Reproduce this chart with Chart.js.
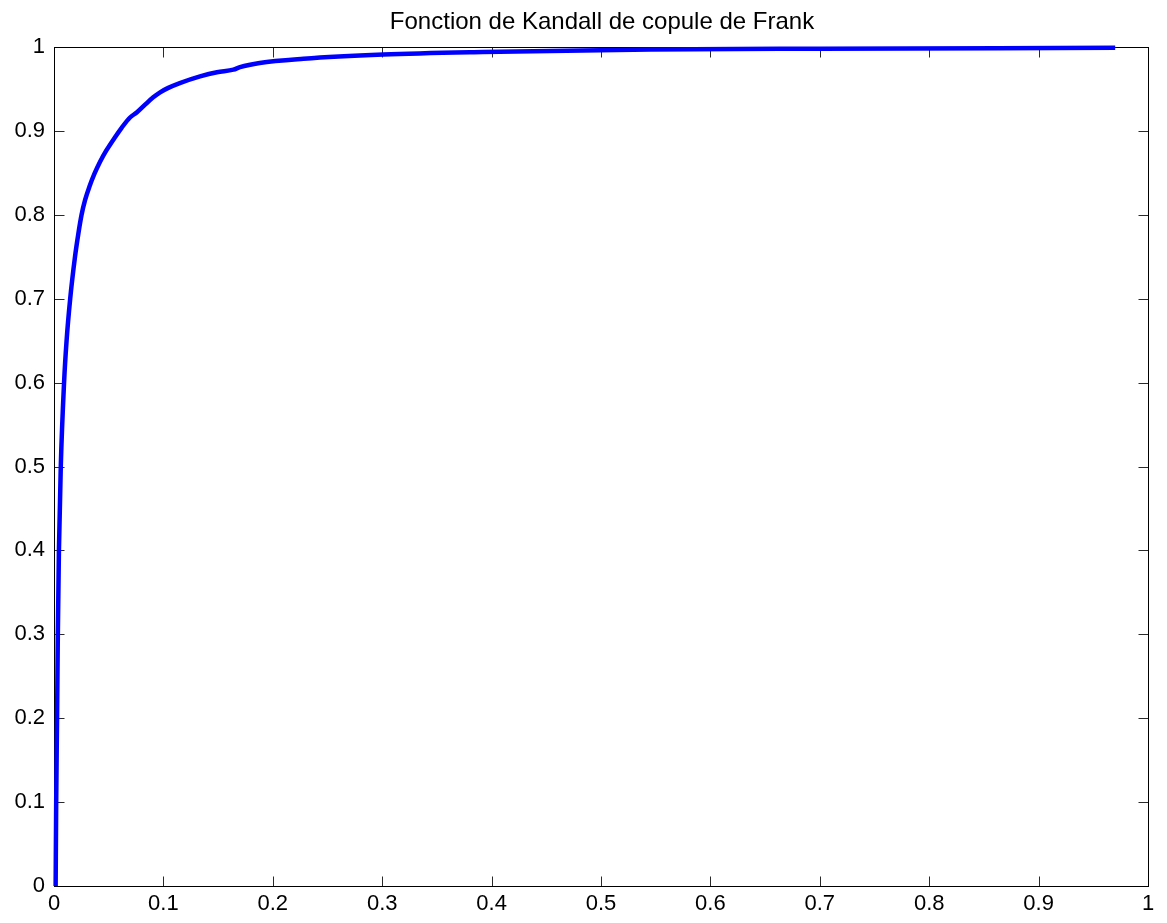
<!DOCTYPE html>
<html>
<head>
<meta charset="utf-8">
<title>Fonction de Kandall de copule de Frank</title>
<script src="https://cdn.jsdelivr.net/npm/chart.js@4/dist/chart.umd.min.js"></script>
<style>
  html, body { margin: 0; padding: 0; background: #fff; }
  #wrap { width: 1167px; height: 923px; }
</style>
</head>
<body>
<div id="wrap"><canvas id="c" width="1167" height="923"></canvas></div>
<script>
// Empirical Kendall function K(t) of the Frank copula
const tValues = [0.0015, 0.002, 0.0028, 0.0035, 0.0045, 0.0062, 0.0092, 0.0115, 0.0148, 0.0192,
                 0.0222, 0.0252, 0.0285, 0.0325, 0.037, 0.042, 0.048, 0.055, 0.062, 0.0695,
                 0.0756, 0.083, 0.0907, 0.097, 0.104, 0.115, 0.1335, 0.149, 0.164, 0.170,
                 0.188, 0.228, 0.301, 0.392, 0.545, 0.70, 0.97];
const kValues = [0, 0.1, 0.2, 0.3, 0.4, 0.5, 0.6, 0.65, 0.7, 0.75,
                 0.777, 0.8, 0.818, 0.834, 0.849, 0.863, 0.877, 0.891, 0.904, 0.916,
                 0.922, 0.931, 0.940, 0.946, 0.951, 0.957, 0.965, 0.970, 0.973, 0.976,
                 0.981, 0.986, 0.991, 0.994, 0.997, 0.998, 0.999];

const tickValues = [0, 0.1, 0.2, 0.3, 0.4, 0.5, 0.6, 0.7, 0.8, 0.9, 1];
const tickLabels = ['0', '0.1', '0.2', '0.3', '0.4', '0.5', '0.6', '0.7', '0.8', '0.9', '1'];
const titleText = 'Fonction de Kandall de copule de Frank';

const points = tValues.map((t, i) => ({ x: t, y: kValues[i] }));

const FONT = '"Liberation Sans", Arial, Helvetica, sans-serif';
Chart.defaults.font.family = FONT;
Chart.defaults.color = '#000';

// Axes box with inward tick marks on all four sides, plus the title centred over the axes
const boxPlugin = {
  id: 'matlabBox',
  beforeDatasetsDraw(chart) {
    const { ctx, chartArea: a, scales } = chart;
    const L = Math.round(a.left) + 0.5, R = Math.round(a.right) + 0.5;
    const T = Math.round(a.top) + 0.5, B = Math.round(a.bottom) + 0.5;
    const len = 10;
    ctx.save();
    ctx.lineWidth = 1;
    ctx.strokeStyle = '#2a2a2a';
    ctx.beginPath();
    tickValues.forEach(v => {
      const px = Math.round(scales.x.getPixelForValue(v)) + 0.5;
      ctx.moveTo(px, B); ctx.lineTo(px, B - len);
      ctx.moveTo(px, T); ctx.lineTo(px, T + len);
      const py = Math.round(scales.y.getPixelForValue(v)) + 0.5;
      ctx.moveTo(L, py); ctx.lineTo(L + len, py);
      ctx.moveTo(R, py); ctx.lineTo(R - len, py);
    });
    ctx.stroke();
    ctx.strokeStyle = '#000';
    ctx.strokeRect(L, T, R - L, B - T);

    ctx.fillStyle = '#000';
    ctx.font = '24px ' + FONT;
    ctx.textAlign = 'center';
    ctx.textBaseline = 'alphabetic';
    ctx.fillText(titleText, (a.left + a.right) / 2 + 1, 29);
    ctx.restore();
  }
};

function fixedTicks(scale) {
  scale.ticks = tickValues.map(v => ({ value: v }));
}

new Chart(document.getElementById('c'), {
  type: 'line',
  data: {
    datasets: [{
      data: points,
      borderColor: '#0000ff',
      borderWidth: 4.5,
      pointRadius: 0,
      fill: false,
      cubicInterpolationMode: 'monotone',
      borderJoinStyle: 'round',
      clip: false
    }]
  },
  options: {
    responsive: false,
    animation: false,
    events: [],
    layout: { padding: { left: 0, right: 19, top: 47, bottom: 0 } },
    plugins: {
      legend: { display: false },
      tooltip: { enabled: false },
      title: { display: false }
    },
    scales: {
      x: {
        type: 'linear',
        min: 0, max: 1,
        afterBuildTicks: fixedTicks,
        afterFit(scale) { scale.height = 37; },
        grid: { display: false, drawTicks: false },
        border: { display: false },
        ticks: {
          autoSkip: false,
          maxRotation: 0,
          padding: 5,
          font: { size: 22 },
          color: '#000',
          callback: (v, i) => tickLabels[i]
        }
      },
      y: {
        type: 'linear',
        min: 0, max: 1,
        afterBuildTicks: fixedTicks,
        afterFit(scale) { scale.width = 54; },
        grid: { display: false, drawTicks: false },
        border: { display: false },
        ticks: {
          autoSkip: false,
          padding: 9,
          font: { size: 22 },
          color: '#000',
          callback: (v, i) => tickLabels[i]
        }
      }
    }
  },
  plugins: [boxPlugin]
});
</script>
</body>
</html>
